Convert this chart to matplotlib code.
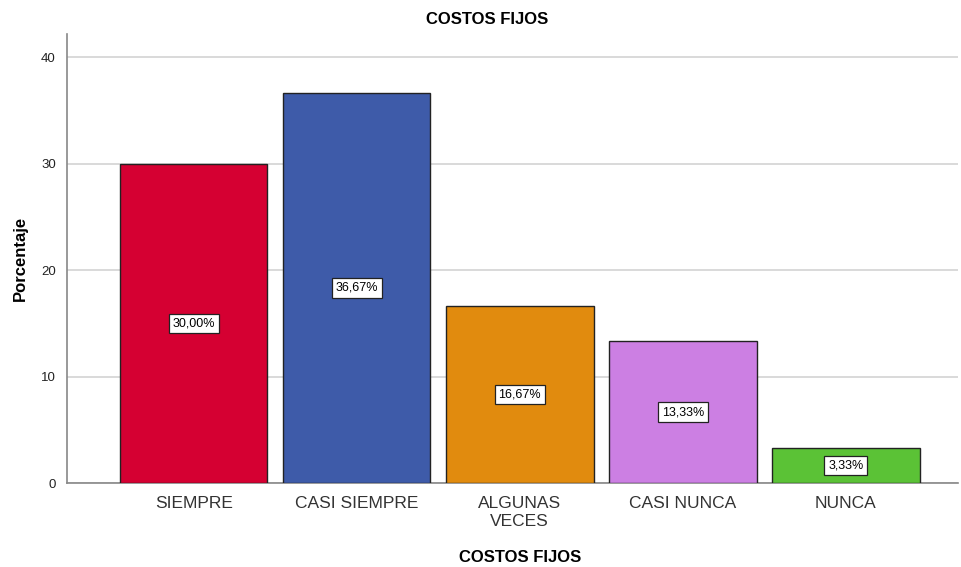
import matplotlib
matplotlib.use("Agg")
import matplotlib.pyplot as plt

categories = ["SIEMPRE", "CASI SIEMPRE", "ALGUNAS\nVECES", "CASI NUNCA", "NUNCA"]
values = [30.00, 36.67, 16.67, 13.33, 3.33]
labels = ["30,00%", "36,67%", "16,67%", "13,33%", "3,33%"]
colors = ["#D50032", "#3E5BA9", "#E18B0E", "#CC7FE3", "#5BC236"]
yticks = [0, 10, 20, 30, 40]

plt.rcParams['font.family'] = ['Liberation Sans', 'DejaVu Sans']

fig = plt.figure(figsize=(9.61, 5.67), dpi=100)
ax = fig.add_axes([67/961, 84/567, (958-67)/961, (483-34)/567])

x = list(range(len(categories)))
ax.bar(x, values, width=0.905, color=colors, edgecolor="#222222", linewidth=1.0, zorder=3)
for xi, v, lab in zip(x, values, labels):
    ax.text(xi, v/2, lab, ha="center", va="center", fontsize=9, color="black", zorder=4,
            bbox=dict(boxstyle="square,pad=0.3", facecolor="white", edgecolor="#222222", linewidth=0.9))

ax.set_xlim(-0.777, 4.688)
ax.set_ylim(0, 42.2)
ax.set_yticks(yticks)
ax.set_yticklabels([str(t) for t in yticks], fontsize=9.5, color="#222222")
ax.set_xticks(x)
ax.set_xticklabels(categories, fontsize=12.5, color="#333333", linespacing=1.25)
ax.tick_params(axis="x", length=0, pad=9)
ax.tick_params(axis="y", length=0, pad=8)
ax.grid(axis="y", color="#D3D3D3", linewidth=1.2, zorder=0)
for s in ["top", "right"]:
    ax.spines[s].set_visible(False)
ax.spines["left"].set_color("#888888")
ax.spines["bottom"].set_color("#888888")
ax.spines["left"].set_linewidth(1.2)
ax.spines["bottom"].set_linewidth(1.2)

fig.text(487/961, 1 - 20/567, "COSTOS FIJOS", ha="center", va="center", fontsize=12, fontweight="bold")
fig.text(520/961, 1 - 557/567, "COSTOS FIJOS", ha="center", va="center", fontsize=12, fontweight="bold")
fig.text(20/961, 1 - 258/567, "Porcentaje", ha="center", va="center", fontsize=12, fontweight="bold", rotation=90)

fig.savefig("out.png", dpi=100)
